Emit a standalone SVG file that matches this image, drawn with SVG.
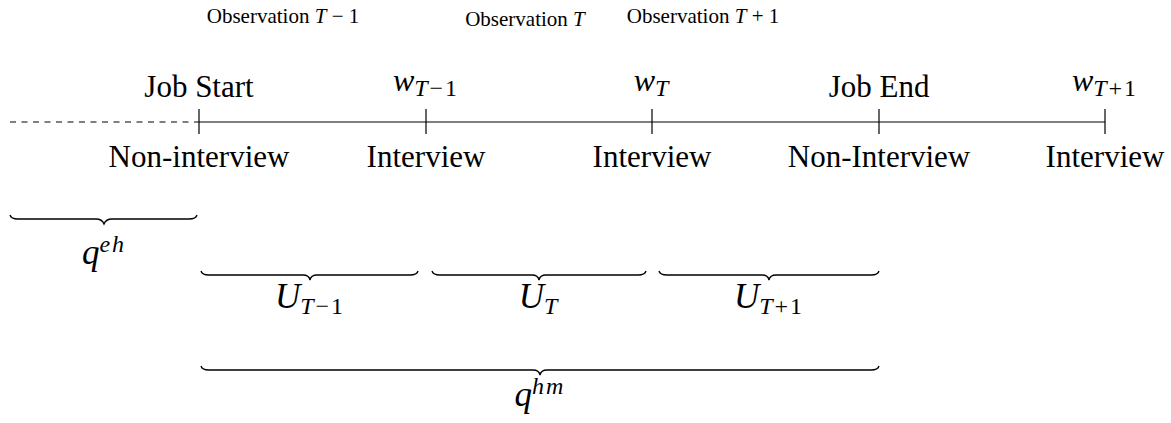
<svg xmlns="http://www.w3.org/2000/svg" width="1171" height="423" viewBox="0 0 1171 423">
<style>
text{font-family:"Liberation Serif","Times New Roman",serif;fill:#000}
.lab{font-size:31px;text-anchor:middle}
.obs{font-size:21px;text-anchor:middle}
.mw{font-size:32px;text-anchor:middle}
.mb{font-size:35px;text-anchor:middle}
.m{font-style:italic}
.sub{font-size:24px;letter-spacing:2px}
.ax{stroke:#000;stroke-width:1.2;fill:none}
.br{stroke:#000;stroke-width:1.3;fill:none}
</style>
<rect width="1171" height="423" fill="#fff"/>
<g id="connectors">
<line class="ax" x1="10" y1="122" x2="199" y2="122" stroke-dasharray="6,5.5"/>
<line class="ax" x1="199" y1="122" x2="1105" y2="122"/>
</g>
<g id="obs-labels">
<text class="obs" x="283" y="23">Observation <tspan class="m">T</tspan> − 1</text>
<text class="obs" x="525" y="26">Observation <tspan class="m">T</tspan></text>
<text class="obs" x="703" y="23">Observation <tspan class="m">T</tspan> + 1</text>
</g>
<g id="tick-jobstart">
<line class="ax" x1="199" y1="109" x2="199" y2="134"/>
<text class="lab" x="199" y="97">Job Start</text>
<text class="lab" x="199" y="167">Non-interview</text>
</g>
<g id="tick-wTm1">
<line class="ax" x1="426" y1="109" x2="426" y2="134"/>
<text class="mw" x="426" y="91"><tspan class="m">w</tspan><tspan class="sub" dy="5"><tspan class="m">T</tspan>−1</tspan></text>
<text class="lab" x="426" y="167">Interview</text>
</g>
<g id="tick-wT">
<line class="ax" x1="652" y1="109" x2="652" y2="134"/>
<text class="mw" x="652" y="91"><tspan class="m">w</tspan><tspan class="sub m" dy="5">T</tspan></text>
<text class="lab" x="652" y="167">Interview</text>
</g>
<g id="tick-jobend">
<line class="ax" x1="879" y1="109" x2="879" y2="134"/>
<text class="lab" x="879" y="97">Job End</text>
<text class="lab" x="879" y="167">Non-Interview</text>
</g>
<g id="tick-wTp1">
<line class="ax" x1="1105" y1="109" x2="1105" y2="134"/>
<text class="mw" x="1105" y="91"><tspan class="m">w</tspan><tspan class="sub" dy="5"><tspan class="m">T</tspan>+1</tspan></text>
<text class="lab" x="1105" y="167">Interview</text>
</g>
<g id="brace-qeh">
<path class="br" d="M10,215 Q11,219 18,219 L96,219 Q102,219 104,224 Q106,219 112,219 L189,219 Q196,219 197,215"/>
<text class="mb" x="104" y="264"><tspan class="m">q</tspan><tspan class="sub m" dy="-12">eh</tspan></text>
</g>
<g id="brace-UTm1">
<path class="br" d="M201,271 Q202,275 209,275 L303,275 Q309,275 310,280 Q311,275 317,275 L410,275 Q417,275 418,271"/>
<text class="mb" x="310" y="308"><tspan class="m">U</tspan><tspan class="sub" dy="6"><tspan class="m">T</tspan>−1</tspan></text>
</g>
<g id="brace-UT">
<path class="br" d="M432,271 Q433,275 440,275 L532,275 Q538,275 539,280 Q540,275 546,275 L638,275 Q645,275 646,271"/>
<text class="mb" x="539" y="308"><tspan class="m">U</tspan><tspan class="sub m" dy="6">T</tspan></text>
</g>
<g id="brace-UTp1">
<path class="br" d="M659,271 Q660,275 667,275 L762,275 Q768,275 769,280 Q770,275 776,275 L871,275 Q878,275 879,271"/>
<text class="mb" x="769" y="308"><tspan class="m">U</tspan><tspan class="sub" dy="6"><tspan class="m">T</tspan>+1</tspan></text>
</g>
<g id="brace-qhm">
<path class="br" d="M201,366 Q202,370 209,370 L533,370 Q539,370 540,375 Q541,370 547,370 L871,370 Q878,370 879,366"/>
<text class="mb" x="540" y="406"><tspan class="m">q</tspan><tspan class="sub m" dy="-12">hm</tspan></text>
</g>
</svg>
